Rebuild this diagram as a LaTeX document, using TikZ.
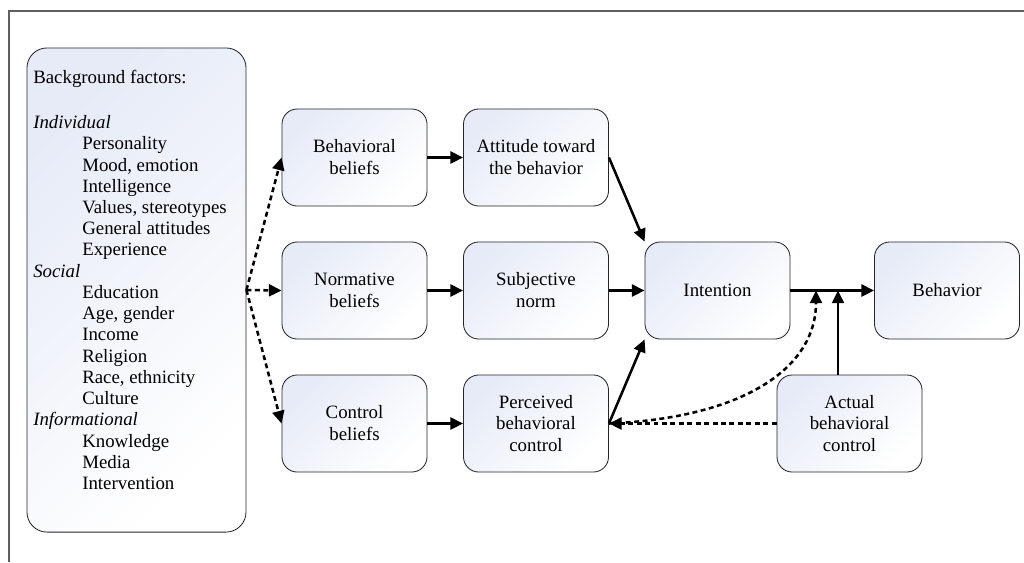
\documentclass[tikz,border=0pt]{standalone}
\usepackage{fontspec}
\setmainfont{LiberationSerif}[Extension=.ttf, UprightFont=*-Regular,
  ItalicFont=*-Italic, BoldFont=*-Bold, BoldItalicFont=*-BoldItalic]
\usepackage{xcolor}
\usepackage{tikz}
\usetikzlibrary{arrows.meta}
\definecolor{framegray}{RGB}{95,95,95}
\definecolor{paleblue}{RGB}{230,235,247}

\begin{document}
\begin{tikzpicture}[x=0.025cm, y=-0.025cm,
    every node/.style={font=\rmfamily\fontsize{13.4}{15.6}\selectfont},
    concept/.style={draw=black!85, line width=0.6pt, rounded corners=0.38cm,
      top color=paleblue, bottom color=white, shading angle=45,
      minimum width=3.625cm, minimum height=2.425cm, align=center, inner sep=2pt},
    factorbox/.style={concept, rounded corners=0.5cm,
      minimum width=5.475cm, minimum height=12.1cm},
    factortext/.style={anchor=north west, align=left, inner sep=0pt,
      font=\rmfamily\fontsize{13.4}{15.1}\selectfont},
    link/.style={line width=1.8pt, -{Triangle[length=9pt,width=8.5pt]}},
    dlink/.style={link, dash pattern=on 3.5pt off 2.5pt}]
  \useasboundingbox (0,0) rectangle (1024,562);

  % Frame
  \draw[framegray, line width=1.1pt] (9,562) -- (9,11) -- (1024,11);

  % Background factors
  \node[factorbox] (factors) at (136.5,290) {};
  \node[factortext] (factorlist) at (33,70) {Background factors:\\[0.594cm]
    \textit{Individual}\\
    \hspace*{1.225cm}Personality\\
    \hspace*{1.225cm}Mood, emotion\\
    \hspace*{1.225cm}Intelligence\\
    \hspace*{1.225cm}Values, stereotypes\\
    \hspace*{1.225cm}General attitudes\\
    \hspace*{1.225cm}Experience\\
    \textit{Social}\\
    \hspace*{1.225cm}Education\\
    \hspace*{1.225cm}Age, gender\\
    \hspace*{1.225cm}Income\\
    \hspace*{1.225cm}Religion\\
    \hspace*{1.225cm}Race, ethnicity\\
    \hspace*{1.225cm}Culture\\
    \textit{Informational}\\
    \hspace*{1.225cm}Knowledge\\
    \hspace*{1.225cm}Media\\
    \hspace*{1.225cm}Intervention};

  % Beliefs and determinants
  \node[concept] (bbel) at (354.5,157.5) {Behavioral\\beliefs};
  \node[concept] (att) at (536,157.5) {Attitude toward\\the behavior};
  \node[concept] (nbel) at (354.5,290.5) {Normative\\beliefs};
  \node[concept] (snorm) at (536,290.5) {Subjective\\norm};
  \node[concept] (cbel) at (354.5,423.5) {Control\\beliefs};
  \node[concept] (pbc) at (536,423.5) {Perceived\\behavioral\\control};
  \node[concept] (intent) at (717.5,290.5) {Intention};
  \node[concept] (behav) at (947,290.5) {Behavior};
  \node[concept] (abc) at (849.5,423.5) {Actual\\behavioral\\control};

  \coordinate (fork) at (factors.east);
  \coordinate (moderate) at (816,290.5);
  \coordinate (enable) at (838,290.5);

  % Connectors
  \draw[dlink] (fork) -- (bbel.west);
  \draw[dlink] (fork) -- (nbel.west);
  \draw[dlink] (fork) -- (cbel.west);
  \draw[link] (bbel) -- (att);
  \draw[link] (nbel) -- (snorm);
  \draw[link] (cbel) -- (pbc);
  \draw[link] (att.east) -- (intent.north west);
  \draw[link] (snorm) -- (intent);
  \draw[link] (pbc.east) -- (intent.south west);
  \draw[link] (intent) -- (behav);
  \draw[link] (abc.north -| enable) -- (enable);
  \draw[dlink] (abc) -- (pbc);
  \draw[dlink] (pbc.east) .. controls (740,418) and (816,370) .. (moderate);
\end{tikzpicture}
\end{document}
